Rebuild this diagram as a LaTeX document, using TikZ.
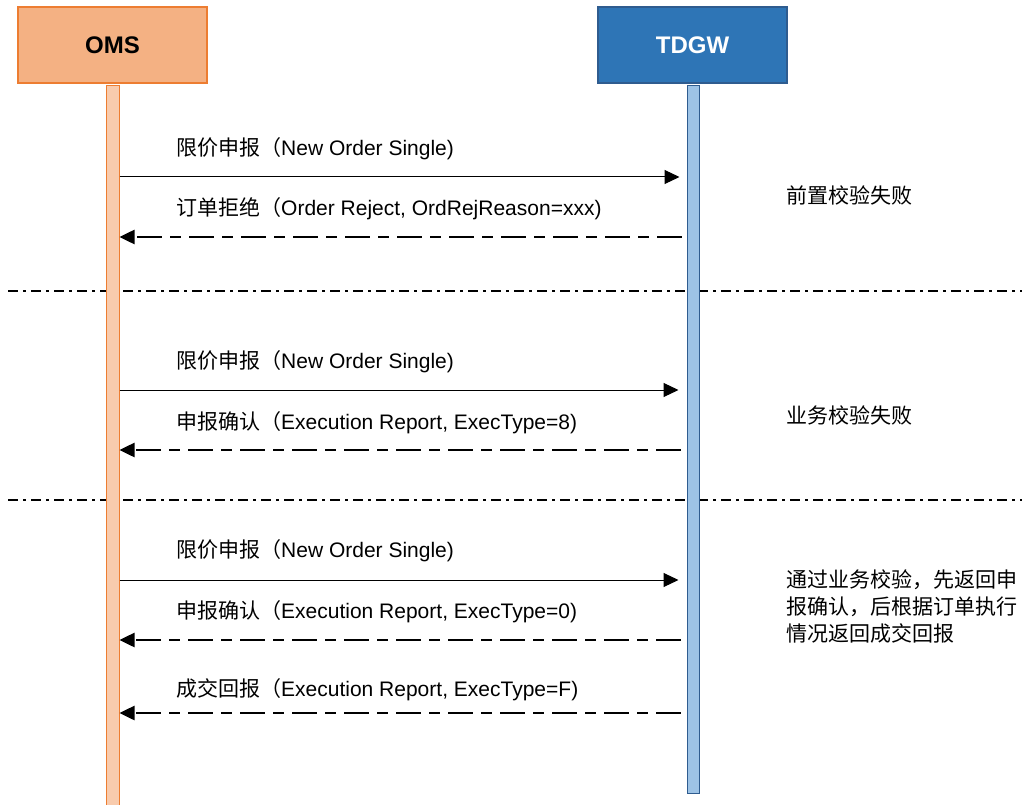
\documentclass[tikz,border=0pt]{standalone}
\usepackage{fontspec}
\setmainfont{Liberation Sans}
\newfontfamily\cjk{Noto Sans CJK SC}
\usetikzlibrary{arrows.meta}
\definecolor{omsfill}{HTML}{F4B183}
\definecolor{omsline}{HTML}{ED7D31}
\definecolor{omslife}{HTML}{F8CBAD}
\definecolor{tdfill}{HTML}{2E75B6}
\definecolor{tdline}{HTML}{2F5C8F}
\definecolor{tdlife}{HTML}{9DC3E6}
\begin{document}
\begin{tikzpicture}[x=1pt,y=-1pt,
  head/.style={draw, line width=1.5pt, minimum width=189pt, minimum height=76pt, inner sep=0pt, font=\fontsize{24}{28}\selectfont\bfseries},
  life/.style={draw, line width=1pt, inner sep=0pt, anchor=north},
  msg/.style={-{Triangle[length=15pt,width=14pt]}, line width=1pt},
  reply/.style={-{Triangle[length=15pt,width=14pt]}, line width=2.5pt, dash pattern=on 25pt off 8pt on 11pt off 8pt},
  sep/.style={line width=2pt, dash pattern=on 10pt off 5pt on 3pt off 5pt},
  lbl/.style={anchor=west, inner sep=0pt, font=\fontsize{21}{25}\selectfont},
  note/.style={anchor=west, inner sep=0pt, align=left, font=\cjk\fontsize{21}{27}\selectfont}]
\useasboundingbox (0,0) rectangle (1022,805);
% separators
\coordinate (s1a) at (8,291); \coordinate (s1b) at (1022,291);
\coordinate (s2a) at (8,500); \coordinate (s2b) at (1022,500);
\draw[sep] (s1a) -- (s1b);
\draw[sep] (s2a) -- (s2b);
% lifelines
\node[life, fill=omslife, draw=omsline, minimum width=13pt, minimum height=725pt] (omsl) at (112.5,85) {};
\node[life, fill=tdlife, draw=tdline, minimum width=12pt, minimum height=708pt] (tdl) at (693,85) {};
% heads
\node[head, fill=omsfill, draw=omsline] (oms) at (112.5,45) {OMS};
\node[head, fill=tdfill, draw=tdline, text=white] (tdgw) at (692.5,45) {TDGW};
% anchor points on lifelines
\foreach \i/\y in {1/177,2/237,3/390,4/450,5/580,6/640,7/713}{
  \coordinate (L\i) at (omsl.east |- 0,\y);
  \coordinate (R\i) at (tdl.west |- 0,\y);
}
\draw[msg, shorten >=7pt] (L1) -- (R1);
\draw[reply, shorten <=5pt] (R2) -- (L2);
\draw[msg, shorten >=8pt] (L3) -- (R3);
\draw[reply, shorten <=6pt] (R4) -- (L4);
\draw[msg, shorten >=8pt] (L5) -- (R5);
\draw[reply, shorten <=6pt] (R6) -- (L6);
\draw[reply, shorten <=6pt] (R7) -- (L7);
% labels
\node[lbl] (m1) at (176,149) {{\cjk 限价申报（}New Order Single)};
\node[lbl] (m2) at (176,209) {{\cjk 订单拒绝（}Order Reject, OrdRejReason=xxx)};
\node[lbl] (m3) at (176,362) {{\cjk 限价申报（}New Order Single)};
\node[lbl] (m4) at (176,423) {{\cjk 申报确认（}Execution Report, ExecType=8)};
\node[lbl] (m5) at (176,551) {{\cjk 限价申报（}New Order Single)};
\node[lbl] (m6) at (176,612) {{\cjk 申报确认（}Execution Report, ExecType=0)};
\node[lbl] (m7) at (176,690) {{\cjk 成交回报（}Execution Report, ExecType=F)};
% notes
\node[note] (n1) at (786,195) {前置校验失败};
\node[note] (n2) at (786,415) {业务校验失败};
\node[note] (n3) at (786,607) {通过业务校验，先返回申\\报确认，后根据订单执行\\情况返回成交回报};
\end{tikzpicture}
\end{document}
